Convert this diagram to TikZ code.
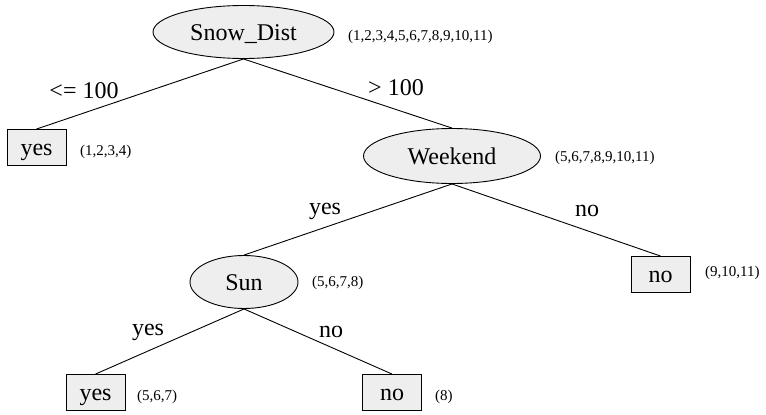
\documentclass[tikz,border=0pt]{standalone}
\usepackage{fontspec}
\setmainfont{Liberation Serif}
\usetikzlibrary{shapes.geometric}
\definecolor{nodefill}{RGB}{238,238,238}
\tikzset{
  decision/.style={ellipse, draw=black, fill=nodefill, line width=0.9pt, inner sep=0pt, text height=17pt, text depth=0pt, font=\fontsize{24}{28}\selectfont},
  leaf/.style={rectangle, draw=black, fill=nodefill, line width=0.9pt, inner sep=0pt, minimum width=59pt, minimum height=36pt, text height=17pt, text depth=2pt, font=\fontsize{24}{28}\selectfont},
  elabel/.style={font=\fontsize{24}{28}\selectfont, inner sep=0pt},
  setlabel/.style={font=\fontsize{15}{18}\selectfont, inner sep=0pt, anchor=west},
  edge/.style={draw=black, line width=0.9pt}
}
\begin{document}
\begin{tikzpicture}[x=1pt,y=-1pt]
\useasboundingbox (0,0) rectangle (766,415);
\node[decision, minimum width=181pt, minimum height=53pt] (sd) at (243.5,32) {Snow\_Dist};
\node[setlabel] (sdl) at (348,37) {(1,2,3,4,5,6,7,8,9,10,11)};
\node[leaf] (y1) at (36.5,147.5) {yes};
\node[setlabel] (y1l) at (80,152) {(1,2,3,4)};
\node[decision, minimum width=177pt, minimum height=55pt] (wk) at (452,156) {Weekend};
\node[setlabel] (wkl) at (555,158) {(5,6,7,8,9,10,11)};
\node[decision, minimum width=108pt, minimum height=53pt] (sun) at (244,282) {Sun};
\node[setlabel] (sunl) at (312,283) {(5,6,7,8)};
\node[leaf] (n1) at (660.5,274.5) {no};
\node[setlabel] (n1l) at (705,273) {(9,10,11)};
\node[leaf] (y2) at (95.5,392.5) {yes};
\node[setlabel] (y2l) at (137,397) {(5,6,7)};
\node[leaf] (n2) at (392,392.5) {no};
\node[setlabel] (n2l) at (435,397) {(8)};
\draw[edge] (sd.south) -- (y1.north);
\draw[edge] (sd.south) -- (wk.north);
\draw[edge] (wk.south) -- (sun.north);
\draw[edge] (wk.south) -- (n1.north);
\draw[edge] (sun.south) -- (y2.north);
\draw[edge] (sun.south) -- (n2.north);
\node[elabel] (e1) at (84,91) {<= 100};
\node[elabel] (e2) at (396,88) {> 100};
\node[elabel] (e3) at (325,211) {yes};
\node[elabel] (e4) at (587,211) {no};
\node[elabel] (e5) at (148,332) {yes};
\node[elabel] (e6) at (331,332) {no};
\end{tikzpicture}
\end{document}
